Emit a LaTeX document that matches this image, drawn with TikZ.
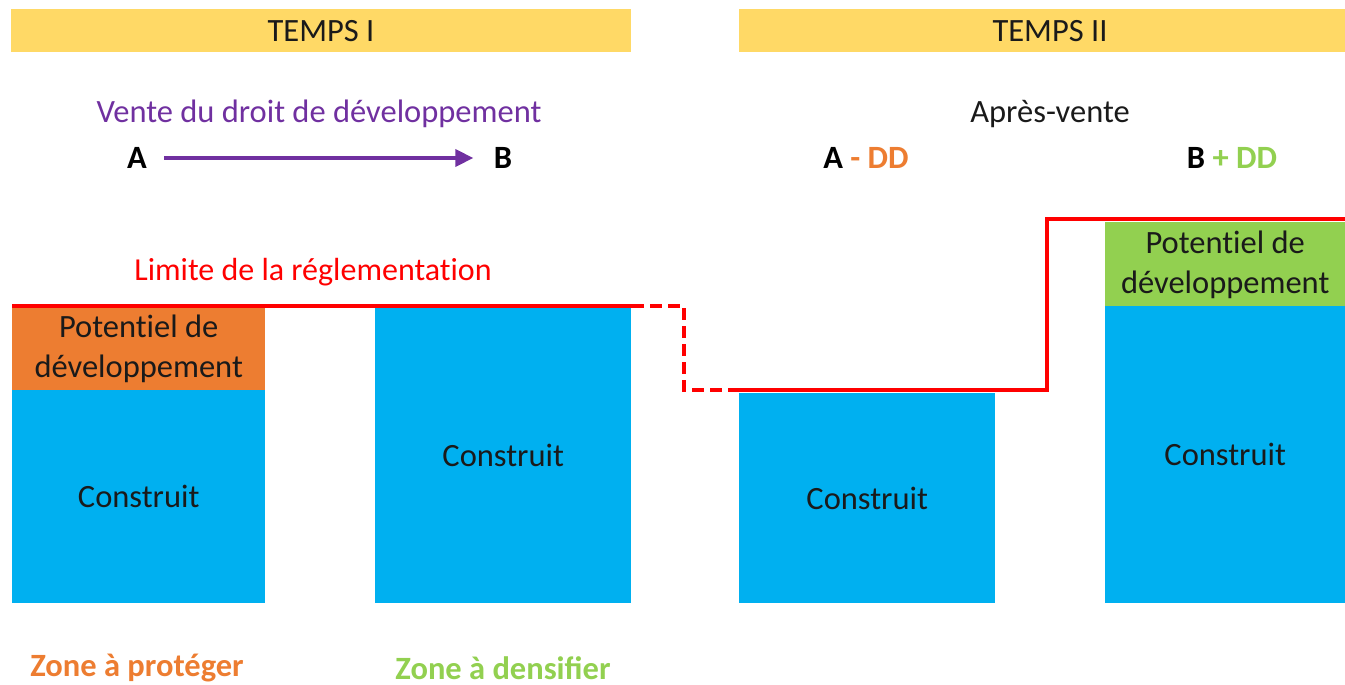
\documentclass[tikz,border=0pt]{standalone}
\usepackage{fontspec}
\setmainfont[Ligatures=NoCommon]{Carlito}
\usetikzlibrary{arrows.meta}
\definecolor{banner}{HTML}{FFD966}
\definecolor{cblue}{HTML}{00B0F0}
\definecolor{corange}{HTML}{ED7D31}
\definecolor{cgreen}{HTML}{92D050}
\definecolor{cred}{HTML}{FF0000}
\definecolor{cpurple}{HTML}{7030A0}
\definecolor{ctext}{HTML}{1A1A1A}
\tikzset{
  big/.style={font=\fontsize{32.5}{40}\selectfont},
  bigb/.style={font=\fontsize{32.5}{40}\selectfont\bfseries},
  bannerbox/.style={fill=banner, draw=none, anchor=north west, inner sep=0pt, text=ctext, big},
  blockbox/.style={draw=none, anchor=north west, inner sep=0pt, align=center, text=ctext, big},
  limit/.style={draw=cred, line width=4.5pt},
  limitdash/.style={draw=cred, line width=4.5pt, dash pattern=on 12pt off 6pt},
}
\begin{document}
\begin{tikzpicture}[x=1pt,y=-1pt]
\useasboundingbox (0,0) rectangle (1345,685);
% banners
\node[bannerbox, minimum width=620pt, minimum height=43pt] (t1) at (11,9) {};
\node[big, text=ctext] (t1l) at (321,31) {TEMPS I};
\node[bannerbox, minimum width=606pt, minimum height=43pt] (t2) at (739,9) {};
\node[big, text=ctext] (t2l) at (1050,31) {TEMPS II};
% headings
\node[big, text=cpurple] (vente) at (319,114) {Vente du droit de développement};
\node[bigb, text=black] (A) at (137,158) {A};
\node[bigb, text=black] (B) at (503,158) {B};
\draw[cpurple, line width=3.5pt, -{Triangle[length=18pt,width=17pt]}] (A.east)+(14,0) coordinate (as) (as) -- ([xshift=-17pt]B.west) coordinate (ae);
\node[big, text=ctext] (apres) at (1050,114) {Après-vente};
\node[bigb] (add) at (866,158) {A\ \textcolor{corange}{-\ DD}};
\node[bigb] (bdd) at (1232,158) {B\ \textcolor{cgreen}{+\ DD}};
\node[font=\fontsize{32}{38}\selectfont, text=cred] (limlab) at (313,272) {Limite de la réglementation};
% blocks
\node[blockbox, fill=corange, minimum width=253pt, minimum height=82pt] (p1) at (12,308) {Potentiel de\\développement};
\node[blockbox, fill=cblue, minimum width=253pt, minimum height=213pt] (c1) at (12,390) {Construit};
\node[blockbox, fill=cblue, minimum width=256pt, minimum height=295pt] (c2) at (375,308) {Construit};
\node[blockbox, fill=cblue, minimum width=256pt, minimum height=210pt] (c3) at (739,393) {Construit};
\node[blockbox, fill=cgreen, minimum width=240pt, minimum height=85pt] (p4) at (1105,222) {Potentiel de\\développement};
\node[blockbox, fill=cblue, minimum width=240pt, minimum height=297pt] (c4) at (1105,306) {Construit};
% regulation limit
\coordinate (l0) at (12,306);
\coordinate (l1) at (632,306);
\coordinate (l2) at (684,306);
\coordinate (l3) at (684,390);
\coordinate (l4) at (739,390);
\coordinate (l5) at (1047,390);
\coordinate (l6) at (1047,219);
\coordinate (l7) at (1345,219);
\draw[limit] (l0) -- (l1);
\draw[limitdash, line join=miter] (l1) -- (l2) -- (l3) -- (l4);
\draw[limit, line join=miter] (l4) -- (l5) -- (l6) -- (l7);
% bottom labels
\node[bigb, text=corange] (zp) at (137,668) {Zone à protéger};
\node[bigb, text=cgreen] (zd) at (503,668) {\addfontfeature{Ligatures=Common}Zone à densifier};
\end{tikzpicture}
\end{document}
